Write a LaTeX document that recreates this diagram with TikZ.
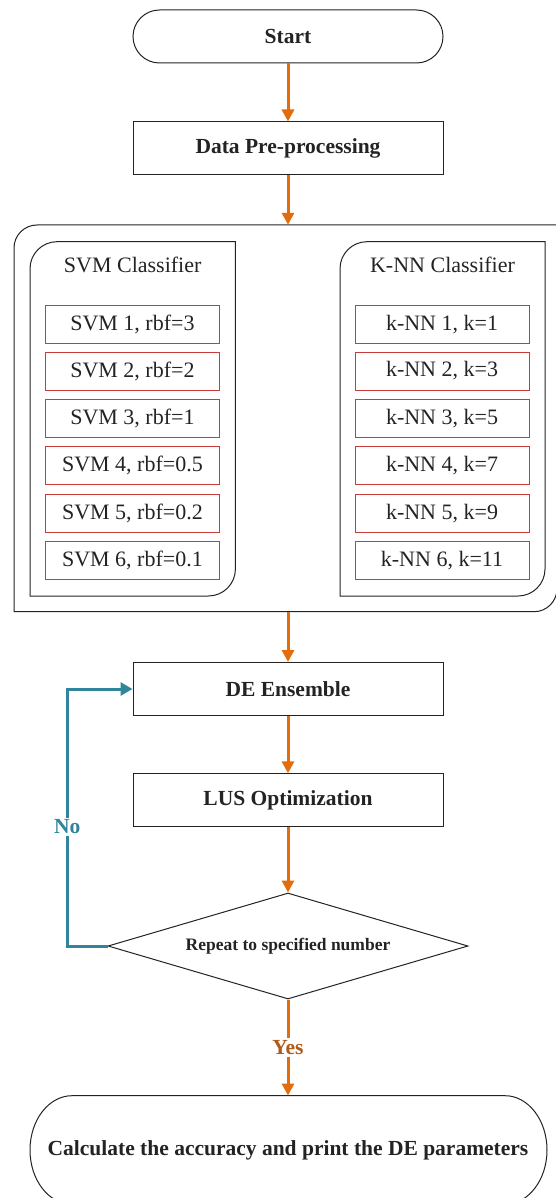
\documentclass[tikz,border=0pt]{standalone}
\usepackage{fontspec}
\setmainfont{Liberation Serif}
\usetikzlibrary{arrows.meta,shapes.geometric,positioning}
\definecolor{arrorange}{RGB}{228,108,10}
\definecolor{yesbrown}{RGB}{175,90,25}
\definecolor{teal2}{RGB}{49,132,155}
\definecolor{boxred}{RGB}{200,60,56}
\definecolor{lineblk}{RGB}{35,35,35}
\begin{document}
\begin{tikzpicture}[x=1pt,y=1pt,
  blk/.style={draw=lineblk,line width=1pt},
  bold/.style={font=\fontsize{21.5}{24}\selectfont\bfseries,text=lineblk},
  reg/.style={font=\fontsize{22}{25}\selectfont,text=lineblk},
  proc/.style={blk,bold,rectangle,minimum width=310,minimum height=53,inner sep=0},
  redbox/.style={draw=boxred,line width=1pt,reg,rectangle,minimum width=174,minimum height=38,inner sep=0},
  oarrow/.style={draw=arrorange,line width=3pt,-{Triangle[length=12pt,width=12pt]}},
  tarrow/.style={draw=teal2,line width=3pt,-{Triangle[length=12pt,width=13pt]}},
  ghost/.style={rectangle,draw=none,inner sep=0}]
\useasboundingbox (0,0) rectangle (555,-1198);
% Start
\node[proc,rounded corners=26.5] (start) at (288,-36.5) {Start};
\node[proc] (pre) at (288,-148.5) {Data Pre-processing};
% outer container
\node[ghost,minimum width=543,minimum height=386.7] (outer) at (285.5,-418.35) {};
\draw[blk] (14,-611.7) -- (14,-248) arc[start angle=180,end angle=90,radius=23]
  -- (557,-225) -- (557,-588.7) arc[start angle=0,end angle=-90,radius=23] -- cycle;
% SVM container
\node[ghost,minimum width=205.4,minimum height=354.3] (svm) at (132.7,-418.85) {};
\draw[blk] (30,-596) -- (30,-268.7) arc[start angle=180,end angle=90,radius=27]
  -- (235.4,-241.7) -- (235.4,-569) arc[start angle=0,end angle=-90,radius=27] -- cycle;
\node[reg] (svmt) at (132.7,-265) {SVM Classifier};
% KNN container
\node[ghost,minimum width=205,minimum height=354.3] (knn) at (442.5,-418.85) {};
\draw[blk] (340,-596) -- (340,-268.7) arc[start angle=180,end angle=90,radius=27]
  -- (545,-241.7) -- (545,-569) arc[start angle=0,end angle=-90,radius=27] -- cycle;
\node[reg] (knnt) at (442.5,-265) {K-NN Classifier};
% red boxes
\node[redbox] (s1) at (132.4,-324.5) {SVM 1, rbf=3};
\node[redbox] (s2) at (132.4,-371) {SVM 2, rbf=2};
\node[redbox] (s3) at (132.4,-418.3) {SVM 3, rbf=1};
\node[redbox] (s4) at (132.4,-465.8) {SVM 4, rbf=0.5};
\node[redbox] (s5) at (132.4,-513.3) {SVM 5, rbf=0.2};
\node[redbox] (s6) at (132.4,-560.8) {SVM 6, rbf=0.1};
\node[redbox] (k1) at (442,-324.5) {k-NN 1, k=1};
\node[redbox] (k2) at (442,-371) {k-NN 2, k=3};
\node[redbox] (k3) at (442,-418.3) {k-NN 3, k=5};
\node[redbox] (k4) at (442,-465.8) {k-NN 4, k=7};
\node[redbox] (k5) at (442,-513.3) {k-NN 5, k=9};
\node[redbox] (k6) at (442,-560.8) {k-NN 6, k=11};
% lower chain
\node[proc] (de) at (288,-689) {DE Ensemble};
\node[proc] (lus) at (288,-800.3) {LUS Optimization};
\node[blk,diamond,minimum width=360,minimum height=106,aspect=3.4,inner sep=0,
  font=\fontsize{17.5}{20}\selectfont\bfseries,text=lineblk] (dia) at (288,-946) {Repeat to specified number};
% final stadium
\node[ghost,bold,minimum width=517,minimum height=108.6] (calc) at (288,-1150) {Calculate the accuracy and print the DE parameters};
\draw[blk] (72,-1095.7) -- (505,-1095.7) arc[start angle=90,end angle=-90,x radius=42,y radius=54.3]
  -- (72,-1204.3) arc[start angle=270,end angle=90,x radius=42,y radius=54.3] -- cycle;
% connectors
\draw[oarrow] (start.south) -- (pre.north);
\draw[oarrow] (pre.south) -- (pre.south |- outer.north);
\draw[oarrow] (de.north |- outer.south) -- (de.north);
\draw[oarrow] (de.south) -- (lus.north);
\draw[oarrow] (lus.south) -- (dia.north);
\draw[oarrow] (dia.south) -- node[fill=white,inner sep=2pt,font=\fontsize{21.5}{24}\selectfont\bfseries,text=yesbrown,pos=0.5] (yes) {Yes} (calc.north);
\coordinate (bend) at (67.3,-946);
\draw[tarrow] (dia.west) -- (bend) |- node[pos=0.232,fill=white,inner sep=2pt,font=\fontsize{21.5}{24}\selectfont\bfseries,text=teal2] (no) {No} (de.west);
\end{tikzpicture}
\end{document}
